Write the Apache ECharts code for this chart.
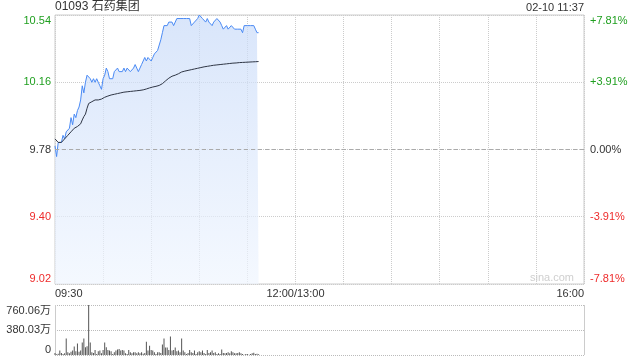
<!DOCTYPE html>
<html><head><meta charset="utf-8">
<script src="https://cdn.jsdelivr.net/npm/echarts@6/dist/echarts.min.js"></script>
<style>html,body{margin:0;padding:0;background:#fff}#c{width:640px;height:360px}</style>
</head><body><div id="c"></div>
<script>
const stockTitle = '01093 石药集团';
const stampText = '02-10 11:37';
const watermark = 'sina.com';
const prevClose = 9.78;

// minute-by-minute price from 09:30
const price = [
 9.80,9.74,9.82,9.82,9.82,9.86,9.84,9.88,9.88,9.90,
 9.96,9.92,9.98,9.96,10.00,10.02,10.06,10.14,10.10,10.16,
 10.20,10.20,10.18,10.16,10.18,10.16,10.18,10.16,10.14,10.12,
 10.18,10.20,10.24,10.22,10.18,10.18,10.18,10.22,10.22,10.24,
 10.22,10.22,10.22,10.24,10.22,10.24,10.24,10.22,10.22,10.24,
 10.26,10.24,10.22,10.24,10.26,10.28,10.30,10.28,10.30,10.30,
 10.28,10.30,10.32,10.32,10.34,10.34,10.40,10.44,10.48,10.48,
 10.48,10.50,10.50,10.50,10.48,10.50,10.52,10.52,10.52,10.52,
 10.52,10.52,10.52,10.52,10.52,10.48,10.48,10.50,10.50,10.52,
 10.54,10.54,10.52,10.52,10.50,10.52,10.50,10.50,10.48,10.50,
 10.50,10.52,10.52,10.50,10.48,10.46,10.46,10.48,10.46,10.46,
 10.48,10.48,10.46,10.46,10.46,10.46,10.46,10.44,10.48,10.48,
 10.48,10.48,10.48,10.48,10.48,10.46,10.44,10.44
];
const avgPrice = [
 9.84,9.83,9.82,9.82,9.82,9.83,9.84,9.85,9.86,9.87,
 9.88,9.89,9.90,9.90,9.91,9.91,9.925,9.947,9.966,9.98,
 10.013,10.04,10.05,10.05,10.055,10.06,10.06,10.06,10.065,10.065,
 10.07,10.075,10.08,10.082,10.085,10.088,10.09,10.092,10.094,10.096,
 10.098,10.10,10.102,10.104,10.105,10.106,10.107,10.108,10.109,10.11,
 10.111,10.112,10.113,10.114,10.115,10.117,10.119,10.122,10.125,10.128,
 10.131,10.133,10.135,10.137,10.139,10.142,10.146,10.152,10.16,10.168,
 10.176,10.183,10.19,10.194,10.197,10.20,10.203,10.208,10.213,10.218,
 10.221,10.223,10.225,10.227,10.229,10.231,10.233,10.235,10.237,10.239,
 10.241,10.243,10.245,10.247,10.249,10.25,10.252,10.253,10.255,10.256,
 10.257,10.258,10.259,10.26,10.261,10.262,10.263,10.264,10.265,10.266,
 10.267,10.268,10.268,10.269,10.27,10.271,10.271,10.272,10.273,10.273,
 10.274,10.274,10.275,10.275,10.276,10.276,10.277,10.277
];
// volume in 万 shares
const volume = [
 31,10,20,67,31,15,26,252,41,26,
 51,67,128,57,175,51,67,190,252,118,
 134,760.06,190,41,31,77,15,57,67,26,
 77,190,118,77,67,57,15,41,67,82,
 92,67,77,67,26,15,77,41,26,41,
 41,26,41,26,41,20,30,200,67,139,
 77,67,41,15,41,41,31,159,252,113,
 113,77,283,67,77,113,57,67,41,252,
 67,41,15,31,77,41,31,67,15,41,
 57,41,67,31,15,77,31,41,67,31,
 41,15,26,15,82,31,26,31,41,26,
 57,41,26,26,31,41,26,15,5,15,
 15,5,15,26,36,15,20,10
];

const priceTickLabels = ['9.02','9.40','9.78','10.16','10.54'];
const pctTickLabels = ['-7.81%','-3.91%','0.00%','+3.91%','+7.81%'];
const volTickLabels = ['0','380.03万','760.06万'];
const timeTickMinutes = [0,150,330];
const timeTickLabels = ['09:30','12:00/13:00','16:00'];

const FONT = "'Liberation Sans', Arial, 'Noto Sans CJK SC', sans-serif";
const GREEN = '#1f9f1f', RED = '#ee2b2b', DARK = '#333';
const rich = {
  up: {color: GREEN, fontSize: 11, fontFamily: FONT},
  dn: {color: RED, fontSize: 11, fontFamily: FONT},
  mid: {color: DARK, fontSize: 11, fontFamily: FONT}
};
const key = i => i > 2 ? 'up' : (i < 2 ? 'dn' : 'mid');

const priceData = price.map((v, i) => [i, v]);
const avgData = avgPrice.map((v, i) => [i, v]);
const volData = volume.map((v, i) => [i, v]);

const chart = echarts.init(document.getElementById('c'), null, {renderer: 'canvas'});
chart.setOption({
  animation: false,
  title: [
    {text: stockTitle, left: 55, top: 1, padding: 0,
     textStyle: {fontSize: 12, fontWeight: 'normal', color: DARK, fontFamily: FONT}},
    {text: stampText, right: 56, top: 2, padding: 0,
     textStyle: {fontSize: 11, fontWeight: 'normal', color: DARK, fontFamily: FONT}}
  ],
  graphic: [{type: 'text', right: 66, top: 272, silent: true,
    style: {text: watermark, fill: '#cfcfcf', font: '11px ' + FONT}}],
  grid: [
    {left: 55, right: 56, top: 15, bottom: 76, show: true, borderColor: '#ccc', borderWidth: 1},
    {left: 55, right: 56, top: 305, bottom: 5}
  ],
  xAxis: [
    {type: 'value', gridIndex: 0, min: 0, max: 330, interval: 30,
     axisLine: {show: false}, axisTick: {show: false},
     splitLine: {show: true, lineStyle: {type: 'dotted', color: '#ccc'}},
     axisLabel: {margin: 4, color: DARK, fontSize: 11, fontFamily: FONT,
       alignMinLabel: 'left', alignMaxLabel: 'right',
       formatter: v => { const k = timeTickMinutes.indexOf(Math.round(v)); return k >= 0 ? timeTickLabels[k] : ''; }}},
    {type: 'value', gridIndex: 1, min: 0, max: 330, interval: 330,
     axisLine: {show: false}, axisTick: {show: false}, axisLabel: {show: false},
     splitLine: {show: true, lineStyle: {type: 'solid', color: '#ccc'}}}
  ],
  yAxis: [
    {type: 'value', gridIndex: 0, position: 'left', min: 9.02, max: 10.54, interval: 0.38,
     axisLine: {show: false}, axisTick: {show: false},
     splitLine: {show: true, lineStyle: {type: 'dotted', color: '#ccc'}},
     axisLabel: {margin: 4, rich, verticalAlignMinLabel: 'bottom', verticalAlignMaxLabel: 'top',
       formatter: (v, i) => '{' + key(i) + '|' + priceTickLabels[i] + '}'}},
    {type: 'value', gridIndex: 0, position: 'right', min: 9.02, max: 10.54, interval: 0.38,
     axisLine: {show: false}, axisTick: {show: false}, splitLine: {show: false},
     axisLabel: {margin: 6, rich, verticalAlignMinLabel: 'bottom', verticalAlignMaxLabel: 'top',
       formatter: (v, i) => '{' + key(i) + '|' + pctTickLabels[i] + '}'}},
    {type: 'value', gridIndex: 1, position: 'left', min: 0, max: 760.06, interval: 380.03,
     axisLine: {show: false}, axisTick: {show: false},
     splitLine: {show: true, lineStyle: {type: 'dotted', color: '#bbb'}},
     axisLabel: {margin: 4, color: DARK, fontSize: 11, fontFamily: FONT,
       verticalAlignMinLabel: 'bottom', verticalAlignMaxLabel: 'top',
       formatter: (v, i) => volTickLabels[i]}}
  ],
  series: [
    {type: 'line', xAxisIndex: 0, yAxisIndex: 0, data: priceData, showSymbol: false,
     lineStyle: {color: '#4a8af4', width: 1}, itemStyle: {color: '#4a8af4'},
     areaStyle: {origin: 'start', color: new echarts.graphic.LinearGradient(0, 0, 0, 1, [
       {offset: 0, color: '#c8daf8'}, {offset: 1, color: '#eff5fe'}])},
     markLine: {silent: true, symbol: ['none', 'none'], label: {show: false},
       lineStyle: {type: [4, 3], color: '#aaa', width: 1}, data: [{yAxis: prevClose}]}},
    {type: 'line', xAxisIndex: 0, yAxisIndex: 0, data: avgData, showSymbol: false,
     lineStyle: {color: '#2e3544', width: 1}, itemStyle: {color: '#2e3544'}},
    {type: 'bar', xAxisIndex: 1, yAxisIndex: 2, data: volData, barWidth: 1,
     itemStyle: {color: '#555'}}
  ]
});
</script></body></html>
